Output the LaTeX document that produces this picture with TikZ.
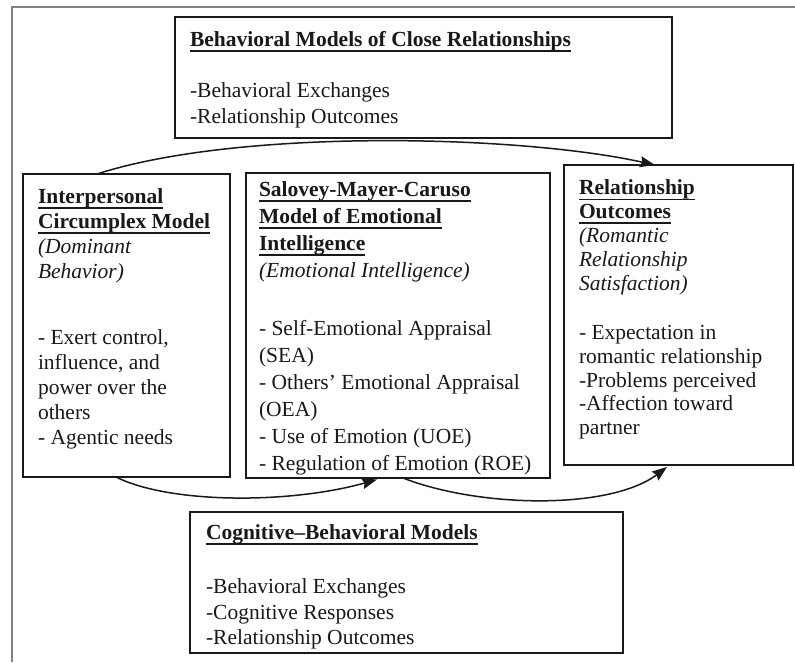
\documentclass[tikz,border=0pt]{standalone}
\usepackage{fontspec}
\setmainfont{Liberation Serif}
\usetikzlibrary{calc,arrows.meta}
\newsavebox\ulbox
\newcommand\ulb[1]{\sbox\ulbox{\textbf{#1}}\rlap{\rule[-5.5pt]{\wd\ulbox}{1.8pt}}\usebox\ulbox}
\definecolor{ink}{RGB}{25,25,25}
\definecolor{framegray}{RGB}{130,130,130}
\begin{document}
\begin{tikzpicture}[x=1pt,y=-1pt,
  box/.style={draw=ink,line width=1.4pt,inner sep=0pt,outer sep=0pt},
  txt/.style={anchor=north west,inner sep=0pt,outer sep=0pt,align=left,text=ink},
  arr/.style={draw=ink,line width=1.5pt,-{Stealth[length=15pt,width=11pt,inset=2pt]}}]
\useasboundingbox (0,0) rectangle (795,662);
\fill[white] (0,0) rectangle (795,662);
% outer frame
\draw[framegray,line width=1.3pt] (12,662) -- (12,7) -- (795,7);
% boxes
\node[box,minimum width=497pt,minimum height=121pt] (top) at (423.5,77.5) {};
\node[box,minimum width=207pt,minimum height=303pt] (left) at (126.5,325.5) {};
\node[box,minimum width=304pt,minimum height=305pt] (mid) at (398,325.5) {};
\node[box,minimum width=229pt,minimum height=300pt] (right) at (678.5,315) {};
\node[box,minimum width=433pt,minimum height=141pt] (bottom) at (406.5,582.5) {};
% texts
\begin{scope}
\clip (top.north west) rectangle (top.south east);
\node[txt,font=\fontsize{21.5}{26}\selectfont] (toptext) at ($(top.north west)+(15,11.3)$)
 {\strut\ulb{Behavioral Models of Close Relationships}\\[25pt]
  -Behavioral Exchanges\\
  -Relationship Outcomes};
\end{scope}
\begin{scope}
\clip (left.north west) rectangle (left.south east);
\node[txt,font=\fontsize{21.5}{25}\selectfont] (lefttext) at ($(left.north west)+(15,11.5)$)
 {\strut\ulb{Interpersonal}\\
  \ulb{Circumplex Model}\\
  \textit{(Dominant}\\
  \textit{Behavior)}\\[41pt]
  - Exert control,\\
  influence, and\\
  power over the\\
  others\\
  - Agentic needs};
\end{scope}
\begin{scope}
\clip (mid.north west) rectangle (mid.south east);
\node[txt,font=\fontsize{21.5}{27}\selectfont] (midtext) at ($(mid.north west)+(13,4.1)$)
 {\strut\ulb{Salovey-Mayer-Caruso}\\
  \ulb{Model of Emotional}\\
  \ulb{Intelligence}\\
  \textit{(Emotional Intelligence)}\\[31pt]
  - Self-Emotional Appraisal\\
  (SEA)\\
  - Others’ Emotional Appraisal\\
  (OEA)\\
  - Use of Emotion (UOE)\\
  - Regulation of Emotion (ROE)};
\end{scope}
\begin{scope}
\clip (right.north west) rectangle (right.south east);
\node[txt,font=\fontsize{21.5}{23.8}\selectfont] (righttext) at ($(right.north west)+(15,13.3)$)
 {\strut\ulb{Relationship}\\
  \ulb{Outcomes}\\
  \textit{(Romantic}\\
  \textit{Relationship}\\
  \textit{Satisfaction)}\\[25.5pt]
  - Expectation in\\
  romantic relationship\\
  -Problems perceived\\
  -Affection toward\\
  partner};
\end{scope}
\begin{scope}
\clip (bottom.north west) rectangle (bottom.south east);
\node[txt,font=\fontsize{21.5}{25.5}\selectfont] (bottomtext) at ($(bottom.north west)+(16,9.5)$)
 {\strut\ulb{Cognitive–Behavioral Models}\\[29pt]
  -Behavioral Exchanges\\
  -Cognitive Responses\\
  -Relationship Outcomes};
\end{scope}
% connectors
\draw[arr] ($(left.north west)+(74,0)$) .. controls (240,128) and (520,135) .. ($(right.north west)+(91,0)$);
\draw[arr] ($(left.south west)+(93,0)$) .. controls (170,504) and (290,504) .. ($(mid.south west)+(131,1.5)$);
\draw[arr] ($(mid.south west)+(157,0)$) .. controls (480,508) and (610,510) .. ($(right.south west)+(103,2)$);
\end{tikzpicture}
\end{document}
